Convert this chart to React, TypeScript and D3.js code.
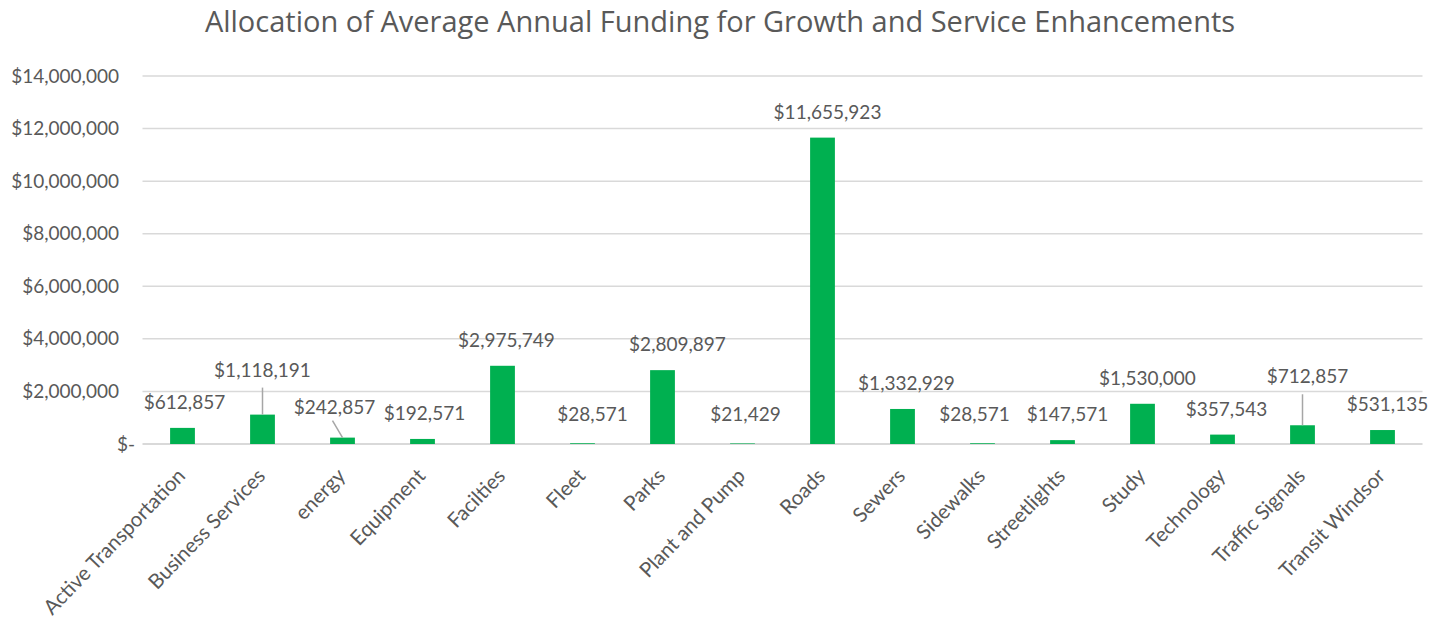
import React from "react";
import * as d3 from "d3";

const categories = [
  "Active Transportation",
  "Business Services",
  "energy",
  "Equipment",
  "Facilties",
  "Fleet",
  "Parks",
  "Plant and Pump",
  "Roads",
  "Sewers",
  "Sidewalks",
  "Streetlights",
  "Study",
  "Technology",
  "Traffic Signals",
  "Transit Windsor",
];

const values = [
  612857, 1118191, 242857, 192571, 2975749, 28571, 2809897, 21429, 11655923,
  1332929, 28571, 147571, 1530000, 357543, 712857, 531135,
];

const yTicks = [0, 2000000, 4000000, 6000000, 8000000, 10000000, 12000000, 14000000];

// Hand-placed data labels: nudges relative to the default spot above each bar,
// and whether a leader line ties the label back to its bar.
const labelNudge: Record<string, { dx: number; dy: number; leader?: boolean }> = {
  "Active Transportation": { dx: 2, dy: 0 },
  "Business Services": { dx: 0, dy: -19, leader: true },
  energy: { dx: -8, dy: -5, leader: true },
  Equipment: { dx: 2, dy: 0 },
  Facilties: { dx: 4, dy: 0 },
  Fleet: { dx: 10, dy: -3 },
  Parks: { dx: 15, dy: 0 },
  "Plant and Pump": { dx: 3, dy: -3 },
  Roads: { dx: 5, dy: 0 },
  Sewers: { dx: 4, dy: 0 },
  Sidewalks: { dx: -8, dy: -3 },
  Streetlights: { dx: 5, dy: 0 },
  Study: { dx: 5, dy: 0 },
  Technology: { dx: 4, dy: 0 },
  "Traffic Signals": { dx: 5, dy: -23, leader: true },
  "Transit Windsor": { dx: 5, dy: 0 },
};

const W = 1448;
const H = 627;
const margin = { left: 142.5, right: 25.5, top: 76, bottom: 183 };
const FONT = "Lato, 'Open Sans', sans-serif";
const TEXT = "#595959";

const fmtMoney = (v: number) => (v === 0 ? "$-" : "$" + d3.format(",")(v));

export default function App() {
  const x = d3
    .scaleBand<string>()
    .domain(categories)
    .range([margin.left, W - margin.right])
    .paddingInner(0.69)
    .paddingOuter(0.345);
  const y = d3
    .scaleLinear()
    .domain([0, 14000000])
    .range([H - margin.bottom, margin.top]);

  const bw = x.bandwidth();

  return (
    <svg
      width={W}
      height={H}
      style={{ position: "absolute", left: 0, top: 0, background: "#fff" }}
      fontFamily={FONT}
    >
      <text
        x={720}
        y={32}
        textAnchor="middle"
        fontSize={29}
        fontFamily="'Open Sans', sans-serif"
        fill={TEXT}
      >
        Allocation of Average Annual Funding for Growth and Service Enhancements
      </text>

      {yTicks.map((t) => (
        <g key={t}>
          <line
            x1={margin.left}
            x2={W - margin.right}
            y1={y(t)}
            y2={y(t)}
            stroke="#d9d9d9"
            strokeWidth={t === 0 ? 2 : 1.5}
          />
          <text
            x={t === 0 ? 135 : 119}
            y={y(t) + 6.5}
            textAnchor="end"
            fontSize={19}
            fill={TEXT}
          >
            {fmtMoney(t)}
          </text>
        </g>
      ))}

      {categories.map((c, i) => (
        <rect
          key={c}
          x={x(c)!}
          y={y(values[i])}
          width={bw}
          height={y(0) - y(values[i])}
          fill="#00b050"
        />
      ))}

      {categories.map((c, i) => {
        const cx = x(c)! + bw / 2;
        const top = y(values[i]);
        const n = labelNudge[c] || { dx: 0, dy: 0 };
        const lx = cx + n.dx;
        const ly = top - 19 + n.dy;
        return (
          <g key={c}>
            {n.leader && (
              <line
                x1={c === "energy" ? lx - 2 : cx}
                y1={ly + (c === "energy" ? 7 : 11)}
                x2={cx}
                y2={top}
                stroke="#a6a6a6"
                strokeWidth={1.5}
              />
            )}
            <text x={lx} y={ly} textAnchor="middle" fontSize={19} fill={TEXT}>
              {fmtMoney(values[i])}
            </text>
          </g>
        );
      })}

      {categories.map((c) => {
        const cx = x(c)! + bw / 2;
        return (
          <text
            key={c}
            transform={`translate(${cx + 4},${y(0) + 33}) rotate(-46)`}
            textAnchor="end"
            fontSize={20.5}
            fill={TEXT}
          >
            {c}
          </text>
        );
      })}
    </svg>
  );
}
